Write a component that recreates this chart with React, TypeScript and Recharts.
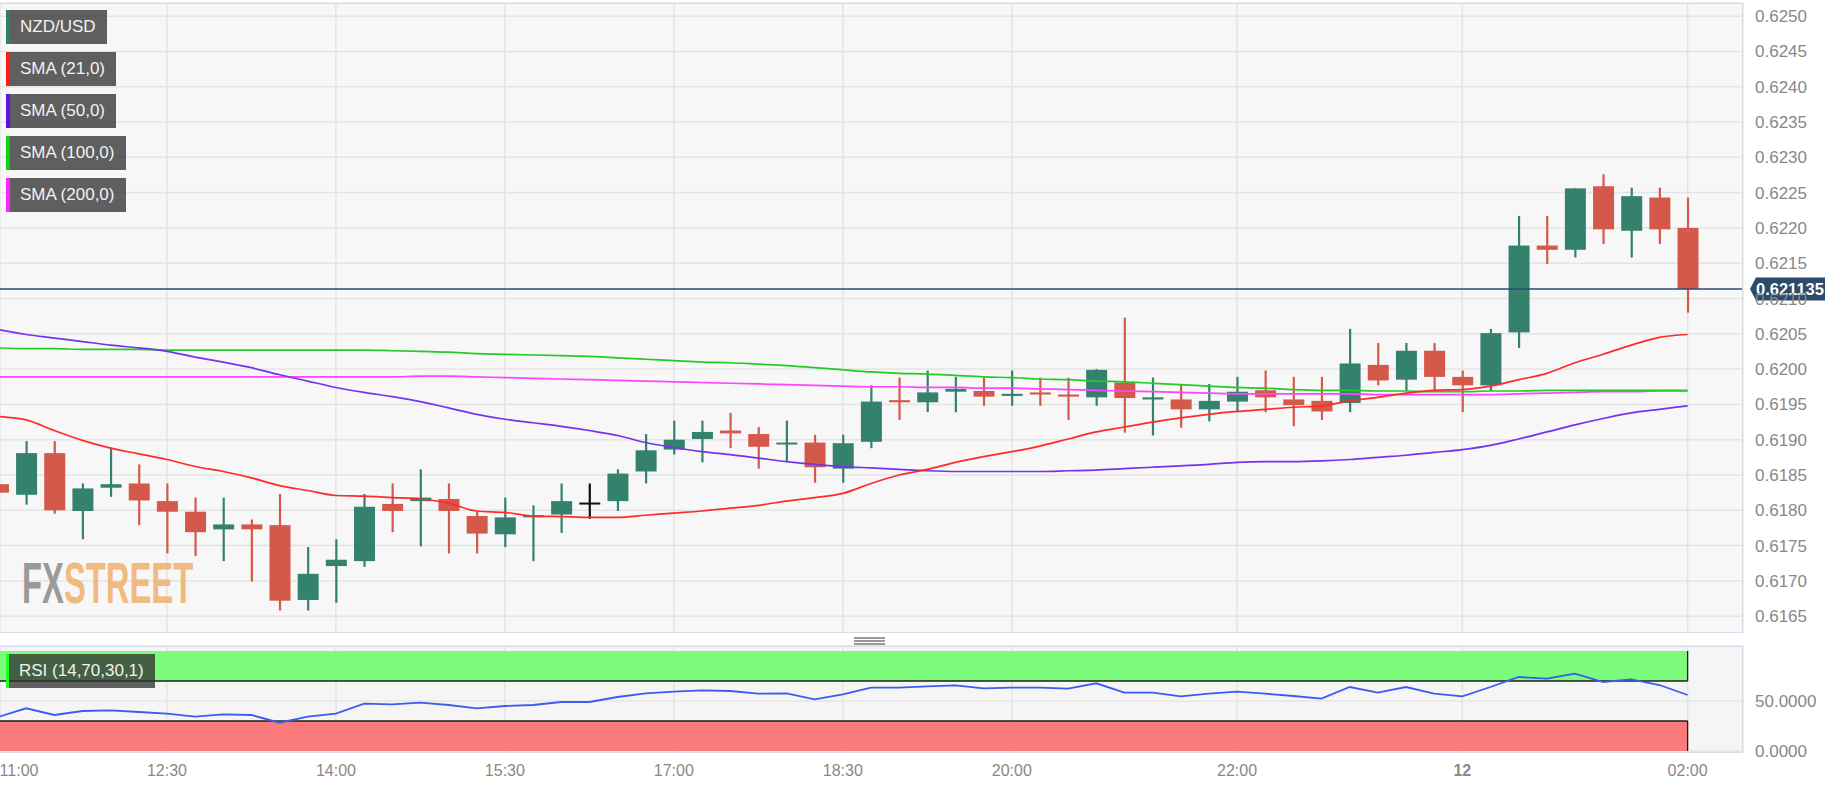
import React from 'react';
import { ComposedChart, Bar, Line, XAxis, YAxis, CartesianGrid, ReferenceLine, ReferenceArea } from 'recharts';

// 15-minute candles, 11:00 -> 02:00
const OPEN = [0.61837, 0.61822, 0.61881, 0.61799, 0.61832, 0.61838, 0.61813, 0.61798, 0.61773, 0.61780, 0.61779, 0.61673, 0.61721, 0.61728, 0.61809, 0.61813, 0.61816, 0.61792, 0.61766, 0.61790, 0.61794, 0.61811, 0.61813, 0.61855, 0.61886, 0.61901, 0.61913, 0.61908, 0.61894, 0.61896, 0.61859, 0.61897, 0.61956, 0.61953, 0.61968, 0.61969, 0.61962, 0.61967, 0.61964, 0.61960, 0.61981, 0.61957, 0.61957, 0.61943, 0.61954, 0.61970, 0.61957, 0.61955, 0.61952, 0.62006, 0.61985, 0.62026, 0.61989, 0.61977, 0.62052, 0.62175, 0.62169, 0.62259, 0.62196, 0.62243, 0.62200];
const HIGH = [0.61842, 0.61898, 0.61898, 0.61838, 0.61889, 0.61865, 0.61838, 0.61818, 0.61818, 0.61787, 0.61823, 0.61748, 0.61759, 0.61823, 0.61838, 0.61858, 0.61838, 0.61798, 0.61818, 0.61807, 0.61838, 0.61838, 0.61858, 0.61908, 0.61927, 0.61927, 0.61938, 0.61918, 0.61927, 0.61907, 0.61907, 0.61977, 0.61988, 0.61998, 0.61989, 0.61988, 0.61998, 0.61988, 0.61988, 0.62000, 0.62073, 0.61988, 0.61979, 0.61979, 0.61989, 0.61998, 0.61989, 0.61989, 0.62057, 0.62037, 0.62037, 0.62037, 0.61998, 0.62057, 0.62217, 0.62217, 0.62256, 0.62276, 0.62257, 0.62257, 0.62243];
const LOW = [0.61822, 0.61808, 0.61795, 0.61759, 0.61819, 0.61779, 0.61739, 0.61735, 0.61728, 0.61699, 0.61658, 0.61658, 0.61669, 0.61720, 0.61769, 0.61749, 0.61739, 0.61739, 0.61748, 0.61728, 0.61768, 0.61788, 0.61799, 0.61838, 0.61879, 0.61868, 0.61888, 0.61859, 0.61869, 0.61839, 0.61839, 0.61888, 0.61928, 0.61939, 0.61939, 0.61948, 0.61948, 0.61948, 0.61928, 0.61948, 0.61910, 0.61906, 0.61917, 0.61926, 0.61939, 0.61939, 0.61919, 0.61928, 0.61939, 0.61977, 0.61969, 0.61970, 0.61939, 0.61969, 0.62030, 0.62149, 0.62158, 0.62177, 0.62158, 0.62177, 0.62080];
const CLOSE = [0.61825, 0.61881, 0.61800, 0.61831, 0.61837, 0.61814, 0.61798, 0.61769, 0.61780, 0.61773, 0.61672, 0.61710, 0.61730, 0.61805, 0.61799, 0.61818, 0.61799, 0.61767, 0.61790, 0.61793, 0.61813, 0.61811, 0.61852, 0.61885, 0.61900, 0.61911, 0.61909, 0.61890, 0.61896, 0.61861, 0.61895, 0.61954, 0.61953, 0.61967, 0.61972, 0.61961, 0.61965, 0.61964, 0.61961, 0.61999, 0.61959, 0.61960, 0.61943, 0.61955, 0.61968, 0.61960, 0.61949, 0.61940, 0.62008, 0.61984, 0.62026, 0.61989, 0.61977, 0.62051, 0.62175, 0.62169, 0.62256, 0.62198, 0.62245, 0.62198, 0.621135];

const SMA21 = [0.61933, 0.61928, 0.61913, 0.61899, 0.61888, 0.61880, 0.61872, 0.61862, 0.61855, 0.61846, 0.61835, 0.61828, 0.61821, 0.61820, 0.61818, 0.61816, 0.61810, 0.61799, 0.61797, 0.61792, 0.61791, 0.61790, 0.61790, 0.61793, 0.61796, 0.61799, 0.61803, 0.61807, 0.61813, 0.61818, 0.61824, 0.61838, 0.61850, 0.61858, 0.61868, 0.61876, 0.61883, 0.61891, 0.61901, 0.61911, 0.61918, 0.61925, 0.61931, 0.61936, 0.61940, 0.61943, 0.61946, 0.61948, 0.61955, 0.61960, 0.61966, 0.61970, 0.61971, 0.61976, 0.61985, 0.61994, 0.62009, 0.62021, 0.62034, 0.62045, 0.62049];
const SMA50 = [0.62056, 0.62049, 0.62044, 0.62039, 0.62034, 0.62030, 0.62025, 0.62017, 0.62010, 0.62002, 0.61992, 0.61983, 0.61974, 0.61967, 0.61961, 0.61954, 0.61945, 0.61936, 0.61929, 0.61924, 0.61919, 0.61913, 0.61906, 0.61896, 0.61889, 0.61883, 0.61879, 0.61874, 0.61869, 0.61865, 0.61862, 0.61860, 0.61858, 0.61856, 0.61855, 0.61855, 0.61855, 0.61855, 0.61856, 0.61857, 0.61859, 0.61861, 0.61863, 0.61865, 0.61868, 0.61869, 0.61869, 0.61870, 0.61872, 0.61875, 0.61878, 0.61882, 0.61886, 0.61892, 0.61901, 0.61911, 0.61921, 0.61930, 0.61938, 0.61943, 0.61948];
const SMA100 = [0.62030, 0.62029, 0.62029, 0.62028, 0.62028, 0.62028, 0.62027, 0.62027, 0.62027, 0.62027, 0.62027, 0.62027, 0.62027, 0.62027, 0.62026, 0.62025, 0.62024, 0.62022, 0.62021, 0.62020, 0.62019, 0.62018, 0.62016, 0.62014, 0.62012, 0.62010, 0.62009, 0.62007, 0.62005, 0.62002, 0.61999, 0.61996, 0.61994, 0.61993, 0.61991, 0.61989, 0.61988, 0.61986, 0.61985, 0.61983, 0.61982, 0.61980, 0.61978, 0.61976, 0.61974, 0.61973, 0.61971, 0.61970, 0.61970, 0.61969, 0.61969, 0.61968, 0.61968, 0.61969, 0.61969, 0.61970, 0.61970, 0.61970, 0.61970, 0.61970, 0.61970];
const SMA200 = [0.61989, 0.61989, 0.61989, 0.61989, 0.61989, 0.61989, 0.61989, 0.61989, 0.61989, 0.61989, 0.61989, 0.61989, 0.61989, 0.61989, 0.61989, 0.61990, 0.61990, 0.61989, 0.61988, 0.61987, 0.61986, 0.61985, 0.61984, 0.61983, 0.61982, 0.61981, 0.61980, 0.61979, 0.61978, 0.61977, 0.61976, 0.61975, 0.61975, 0.61974, 0.61974, 0.61973, 0.61973, 0.61972, 0.61971, 0.61970, 0.61969, 0.61968, 0.61967, 0.61966, 0.61965, 0.61965, 0.61965, 0.61965, 0.61965, 0.61964, 0.61964, 0.61964, 0.61964, 0.61964, 0.61965, 0.61966, 0.61967, 0.61968, 0.61968, 0.61969, 0.61969];
const RSI = [34, 42.7, 36, 40, 40.7, 39, 37.3, 34.3, 36.7, 36, 28.3, 34.3, 37.3, 47.3, 46.7, 48.3, 46, 42.7, 45, 46, 49, 49, 54, 57.7, 59.3, 60.7, 60, 57.3, 57.7, 51.7, 56.7, 63.3, 63.3, 64.7, 65.7, 62.7, 63.3, 63.3, 62.3, 67.7, 58.3, 58.3, 54.7, 57.3, 59.3, 57.3, 55, 52.3, 64, 58.3, 64, 57.3, 54.7, 64, 74, 72.3, 77.3, 69, 71.7, 66, 56];

const LAST_PRICE = 0.621135;
const TIME_TICKS = [0, 6, 12, 18, 24, 30, 36, 44, 52, 60];
const TIME_LABELS = ['11:00', '12:30', '14:00', '15:30', '17:00', '18:30', '20:00', '22:00', '12', '02:00'];
const PRICE_TICKS = [0.6165, 0.617, 0.6175, 0.618, 0.6185, 0.619, 0.6195, 0.62, 0.6205, 0.621, 0.6215, 0.622, 0.6225, 0.623, 0.6235, 0.624, 0.6245, 0.625];
const RSI_TICKS = [0, 50];

const LEGEND = [
  { label: 'NZD/USD', color: '#2f7f6e' },
  { label: 'SMA (21,0)', color: '#ff1a1a' },
  { label: 'SMA (50,0)', color: '#5c12e0' },
  { label: 'SMA (100,0)', color: '#12cf12' },
  { label: 'SMA (200,0)', color: '#ff22ff' },
];

const UP = '#34826e';
const DOWN = '#d4594a';
const W = 1825;
const AXIS_W = 82;
const X_DOMAIN = [0.071, 61.967];

const Candle = (props: any) => {
  const { x, y, width, height, payload } = props;
  if (x == null || y == null) return null;
  const { open, close, high, low } = payload;
  const top = Math.min(y, y + height);
  const h = Math.abs(height);
  const py = (p: number) => top + ((high - p) / (high - low)) * h;
  const color = open === close ? '#111' : close > open ? UP : DOWN;
  const cx = x + width / 2;
  const bTop = py(Math.max(open, close));
  const bBot = py(Math.min(open, close));
  return (
    <g>
      <rect x={cx - 1.1} y={top} width={2.2} height={h} fill={color} />
      <rect x={x} y={bTop} width={width} height={Math.max(bBot - bTop, 2)} fill={color} />
    </g>
  );
};

const PriceTag = (props: any) => {
  const { viewBox } = props;
  if (!viewBox) return null;
  const y = viewBox.y;
  const x0 = viewBox.x + viewBox.width + 7;
  return (
    <g>
      <polygon points={`${x0},${y} ${x0 + 6},${y - 11.5} ${W},${y - 11.5} ${W},${y + 11.5} ${x0 + 6},${y + 11.5}`} fill="#2c4a6c" />
      <text x={x0 + 6} y={y} dy="0.36em" fill="#fff" fontWeight="bold" fontSize={16.5}>{LAST_PRICE.toFixed(6)}</text>
    </g>
  );
};

const TimeTick = (props: any) => {
  const { x, y, payload } = props;
  const idx = TIME_TICKS.indexOf(payload.value);
  const label = TIME_LABELS[idx] ?? '';
  const cx = Math.max(x, 19);
  return (
    <text x={cx} y={y + 16} textAnchor="middle" fontSize={16} fill="#888" fontWeight={label === '12' ? 'bold' : 'normal'}>
      {label}
    </text>
  );
};

const boxStyle = (color: string): React.CSSProperties => ({
  display: 'inline-block',
  height: 34,
  lineHeight: '34px',
  background: 'rgba(50,50,50,0.77)',
  color: '#f2f2f2',
  fontSize: 17,
  borderLeft: `4px solid ${color}`,
  padding: '0 11px 0 10px',
  whiteSpace: 'nowrap',
});

export default function App() {
  const data = OPEN.map((open, i) => ({
    i,
    open,
    high: HIGH[i],
    low: LOW[i],
    close: CLOSE[i],
    range: [LOW[i], HIGH[i]],
    sma21: SMA21[i],
    sma50: SMA50[i],
    sma100: SMA100[i],
    sma200: SMA200[i],
    rsi: RSI[i],
  }));

  return (
    <div style={{ position: 'absolute', left: 0, top: 0, width: W, height: 788, background: '#fff', overflow: 'hidden', fontFamily: '"Liberation Sans", Arial, sans-serif' }}>
      {/* price panel */}
      <div style={{ position: 'absolute', left: 0, top: 0 }}>
        <ComposedChart width={W} height={633} data={data} margin={{ top: 3, right: 0, bottom: 0, left: 0 }}>
          <CartesianGrid fill="#f7f7f7" stroke="#e4e4e4" strokeWidth={1.5} />
          <XAxis type="number" dataKey="i" domain={X_DOMAIN} ticks={TIME_TICKS} allowDataOverflow hide />
          <YAxis orientation="right" width={AXIS_W} domain={[0.616262, 0.625186]} allowDataOverflow ticks={PRICE_TICKS} interval={0}
            tickFormatter={(v: number) => v.toFixed(4)} axisLine={false} tickLine={false} tickMargin={6} tick={{ fontSize: 17, fill: '#888' }} />
          <Bar dataKey="range" barSize={21} shape={<Candle />} isAnimationActive={false} />
          <Line type="monotone" dataKey="sma200" stroke="#ff44ff" strokeWidth={1.7} dot={false} isAnimationActive={false} />
          <Line type="monotone" dataKey="sma100" stroke="#22cc22" strokeWidth={1.7} dot={false} isAnimationActive={false} />
          <Line type="monotone" dataKey="sma50" stroke="#7433ee" strokeWidth={1.7} dot={false} isAnimationActive={false} />
          <Line type="monotone" dataKey="sma21" stroke="#ff2a2a" strokeWidth={1.7} dot={false} isAnimationActive={false} />
          <ReferenceLine y={LAST_PRICE} stroke="#2c4a6c" strokeWidth={1.5} label={<PriceTag />} />
        </ComposedChart>
      </div>
      <div style={{ position: 'absolute', left: -2, top: 3, width: W - AXIS_W + 2, height: 630, border: '1px solid #d6dce8', boxSizing: 'border-box', pointerEvents: 'none' }} />

      {/* legend */}
      <div style={{ position: 'absolute', left: 6, top: 10, display: 'flex', flexDirection: 'column', alignItems: 'flex-start', gap: 8 }}>
        {LEGEND.map((l) => (
          <div key={l.label} style={boxStyle(l.color)}>{l.label}</div>
        ))}
      </div>

      {/* watermark */}
      <div style={{ position: 'absolute', left: 22, top: 549, fontSize: 58, fontWeight: 'bold', transform: 'scaleX(0.565)', transformOrigin: 'left top', whiteSpace: 'nowrap', opacity: 0.85 }}>
        <span style={{ color: '#8a8a8a' }}>FX</span>
        <span style={{ color: '#efb06d' }}>STREET</span>
      </div>

      {/* drag handle */}
      <div style={{ position: 'absolute', left: 854, top: 637, width: 31 }}>
        {[0, 1, 2].map((k) => (
          <div key={k} style={{ height: 1.5, background: '#999', marginBottom: 1.5 }} />
        ))}
      </div>

      {/* RSI panel */}
      <div style={{ position: 'absolute', left: 0, top: 640 }}>
        <ComposedChart width={W} height={148} data={data} margin={{ top: 6, right: 0, bottom: 0, left: 0 }}>
          <CartesianGrid fill="#f5f5f5" stroke="#e4e4e4" strokeWidth={1.5} />
          <XAxis type="number" dataKey="i" domain={X_DOMAIN} ticks={TIME_TICKS} interval={0} allowDataOverflow height={36}
            axisLine={false} tickLine={false} tick={<TimeTick />} />
          <YAxis orientation="right" width={AXIS_W} domain={[-1, 105]} allowDataOverflow ticks={RSI_TICKS} interval={0}
            tickFormatter={(v: number) => v.toFixed(4)} axisLine={false} tickLine={false} tickMargin={6} tick={{ fontSize: 17, fill: '#888' }} />
          <ReferenceArea y1={70} y2={100} x2={60} fill="#7cfb7c" fillOpacity={1} stroke="none" ifOverflow="visible" />
          <ReferenceArea y1={0} y2={30} x2={60} fill="#fb7b7b" fillOpacity={1} stroke="none" ifOverflow="visible" />
          <ReferenceLine segment={[{ x: X_DOMAIN[0], y: 70 }, { x: 60, y: 70 }]} stroke="#1e1e1e" strokeWidth={1.3} ifOverflow="visible" />
          <ReferenceLine segment={[{ x: X_DOMAIN[0], y: 30 }, { x: 60, y: 30 }]} stroke="#1e1e1e" strokeWidth={1.3} ifOverflow="visible" />
          <ReferenceLine segment={[{ x: 60, y: 70 }, { x: 60, y: 100 }]} stroke="#1e1e1e" strokeWidth={1.3} ifOverflow="visible" />
          <ReferenceLine segment={[{ x: 60, y: 0 }, { x: 60, y: 30 }]} stroke="#1e1e1e" strokeWidth={1.3} ifOverflow="visible" />
          <Line type="linear" dataKey="rsi" stroke="#3b5cf0" strokeWidth={1.8} dot={false} isAnimationActive={false} />
        </ComposedChart>
      </div>
      <div style={{ position: 'absolute', left: -2, top: 646, width: W - AXIS_W + 2, height: 107, border: '1px solid #d6dce8', boxSizing: 'border-box', pointerEvents: 'none' }} />

      <div style={{ position: 'absolute', left: 6, top: 654 }}>
        <div style={{ ...boxStyle('#22ff22'), borderLeftWidth: 3 }}>RSI (14,70,30,1)</div>
      </div>
    </div>
  );
}
